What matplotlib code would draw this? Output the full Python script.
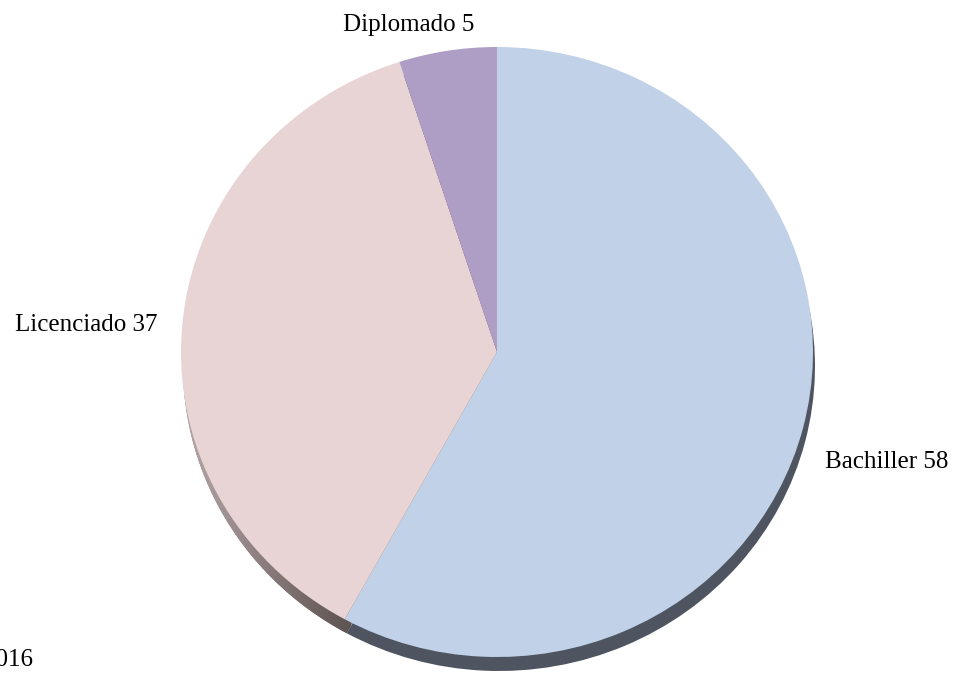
import numpy as np
import matplotlib.pyplot as plt
from matplotlib.colors import LinearSegmentedColormap

# Datos
categorias = ["Bachiller", "Licenciado", "Diplomado"]
valores = [58, 37, 5]
colores = ["#c1d1e7", "#e8d4d4", "#ae9dc4"]
colores_sombra = ["#4e5560", "#7d7170", "#5e5868"]

W, H = 955, 674
fig = plt.figure(figsize=(W / 100, H / 100), dpi=100)
ax = fig.add_axes([0, 0, 1, 1])

# el pastel es un poco achatado: 316 px de ancho, 305 px de alto (radio)
escala_y = 316 / 305
cx, cy, r = 497, (H - 352) * escala_y, 316

# Sombra (desplazada hacia abajo)
sombra, _ = ax.pie(valores, colors=colores_sombra, startangle=90,
                   counterclock=False, center=(cx + 2, cy - 14 * escala_y),
                   radius=r, frame=True)
# degradado bajo la porcion rosa
cmap = LinearSegmentedColormap.from_list("sombra", ["#b8aaab", "#8a7c7c", "#5d5351"])
grad = np.linspace(0, 1, 256).reshape(1, -1)
img = ax.imshow(grad, cmap=cmap, extent=(180, 350, 0, H * escala_y),
                aspect="auto", zorder=sombra[1].get_zorder() + 0.1)
img.set_clip_path(sombra[1])

# Pastel
ax.pie(valores, colors=colores, startangle=90, counterclock=False,
       center=(cx, cy), radius=r, frame=True, wedgeprops={"zorder": 5})
ax.set_aspect("auto")
ax.set_xlim(0, W)
ax.set_ylim(0, H * escala_y)
ax.axis("off")

fuente = "Liberation Serif"
def etiqueta(x, y, s):
    fig.text(x / W, 1 - y / H, s, fontsize=18, family=fuente,
             va="center", ha="left")

etiqueta(825, 462, f"{categorias[0]} {valores[0]}")
etiqueta(15, 325, f"{categorias[1]} {valores[1]}")
etiqueta(343, 25, f"{categorias[2]} {valores[2]}")
etiqueta(-16, 660, "2016")

fig.savefig("out.png", dpi=100)
